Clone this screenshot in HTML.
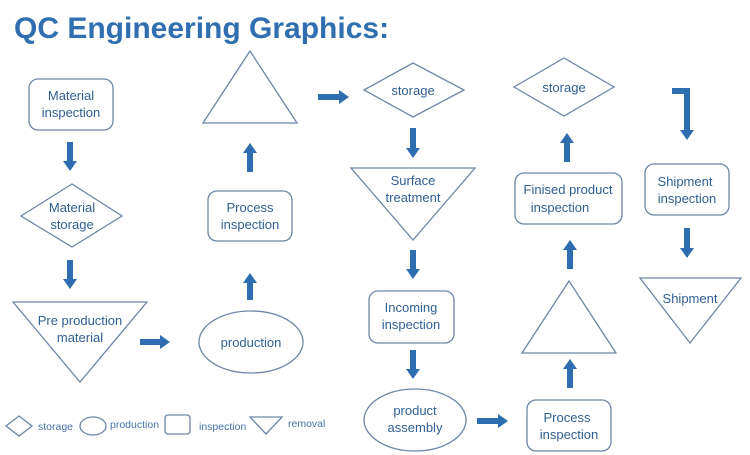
<!DOCTYPE html>
<html><head><meta charset="utf-8"><style>
html,body{margin:0;padding:0;background:#fff;}
svg{display:block;font-family:"Liberation Sans",Arial,sans-serif;}
.s{fill:none;stroke:#6d86a8;stroke-width:1.3;}
.t{fill:#2f5f93;font-size:13px;text-anchor:middle;}
.a{stroke:#2e6db0;stroke-width:6;fill:none;}
.l{fill:#4472a8;font-size:10.5px;}
</style></head><body>
<svg width="750" height="455" viewBox="0 0 750 455">
<defs><marker id="h" markerUnits="userSpaceOnUse" markerWidth="14" markerHeight="14" refX="2" refY="7" orient="auto"><path d="M0,0 L10,7 L0,14 Z" fill="#2e6db0"/></marker></defs>
<rect width="750" height="455" fill="#fff"/>
<text x="14" y="38" style="font-size:30px;font-weight:bold;fill:#2f6fb0;">QC Engineering Graphics:</text>

<!-- column 1 -->
<rect class="s" x="29" y="79" width="84" height="51" rx="9"/>
<text class="t" x="71" y="100">Material</text><text class="t" x="71" y="117">inspection</text>
<line class="a" x1="70" y1="142" x2="70" y2="163" marker-end="url(#h)"/>
<polygon class="s" points="21,216 72,184 122,216 72,247"/>
<text class="t" x="72" y="212">Material</text><text class="t" x="72" y="229">storage</text>
<line class="a" x1="70" y1="260" x2="70" y2="281" marker-end="url(#h)"/>
<polygon class="s" points="13,302 147,302 80,382"/>
<text class="t" x="80" y="325">Pre production</text><text class="t" x="80" y="342">material</text>
<line class="a" x1="140" y1="342" x2="162" y2="342" marker-end="url(#h)"/>

<!-- column 2 -->
<ellipse class="s" cx="251" cy="342" rx="52" ry="31"/>
<text class="t" x="251" y="347">production</text>
<line class="a" x1="250" y1="300" x2="250" y2="281" marker-end="url(#h)"/>
<rect class="s" x="208" y="191" width="84" height="50" rx="9"/>
<text class="t" x="250" y="212">Process</text><text class="t" x="250" y="229">inspection</text>
<line class="a" x1="250" y1="172" x2="250" y2="151" marker-end="url(#h)"/>
<polygon class="s" points="250,51 297,123 203,123"/>
<line class="a" x1="318" y1="97" x2="341" y2="97" marker-end="url(#h)"/>

<!-- column 3 -->
<polygon class="s" points="364,90 413,63 464,90 413,117"/>
<text class="t" x="413" y="95">storage</text>
<line class="a" x1="413" y1="128" x2="413" y2="150" marker-end="url(#h)"/>
<polygon class="s" points="351,168 475,168 413,240"/>
<text class="t" x="413" y="185">Surface</text><text class="t" x="413" y="202">treatment</text>
<line class="a" x1="413" y1="250" x2="413" y2="271" marker-end="url(#h)"/>
<rect class="s" x="369" y="291" width="85" height="52" rx="9"/>
<text class="t" x="411" y="312">Incoming</text><text class="t" x="411" y="329">inspection</text>
<line class="a" x1="413" y1="350" x2="413" y2="371" marker-end="url(#h)"/>
<ellipse class="s" cx="415" cy="420" rx="51" ry="31"/>
<text class="t" x="415" y="415">product</text><text class="t" x="415" y="432">assembly</text>
<line class="a" x1="477" y1="421" x2="500" y2="421" marker-end="url(#h)"/>

<!-- column 4 -->
<rect class="s" x="527" y="400" width="84" height="51" rx="9"/>
<text class="t" x="567" y="422">Process</text><text class="t" x="569" y="439">inspection</text>
<line class="a" x1="570" y1="388" x2="570" y2="367" marker-end="url(#h)"/>
<polygon class="s" points="569,281 616,353 522,353"/>
<line class="a" x1="570" y1="269" x2="570" y2="248" marker-end="url(#h)"/>
<rect class="s" x="515" y="173" width="107" height="51" rx="9"/>
<text class="t" x="568" y="194">Finised product</text><text class="t" x="560" y="212">inspection</text>
<line class="a" x1="567" y1="162" x2="567" y2="141" marker-end="url(#h)"/>
<polygon class="s" points="514,87 564,58 614,87 564,116"/>
<text class="t" x="564" y="92">storage</text>

<!-- column 5 -->
<path d="M672,91 L687,91 L687,132" class="a" marker-end="url(#h)"/>
<rect class="s" x="645" y="164" width="84" height="51" rx="9"/>
<text class="t" x="685" y="186">Shipment</text><text class="t" x="687" y="203">inspection</text>
<line class="a" x1="687" y1="228" x2="687" y2="250" marker-end="url(#h)"/>
<polygon class="s" points="640,278 741,278 690,343"/>
<text class="t" x="690" y="303">Shipment</text>

<!-- legend -->
<polygon class="s" points="6,426 19,416 32,426 19,436"/>
<text class="l" x="38" y="430">storage</text>
<ellipse class="s" cx="93" cy="426" rx="13" ry="9"/>
<text class="l" x="110" y="428">production</text>
<rect class="s" x="165" y="415" width="25" height="19" rx="3"/>
<text class="l" x="199" y="430">inspection</text>
<polygon class="s" points="250,417 282,417 266,434"/>
<text class="l" x="288" y="427">removal</text>
</svg>
</body></html>
